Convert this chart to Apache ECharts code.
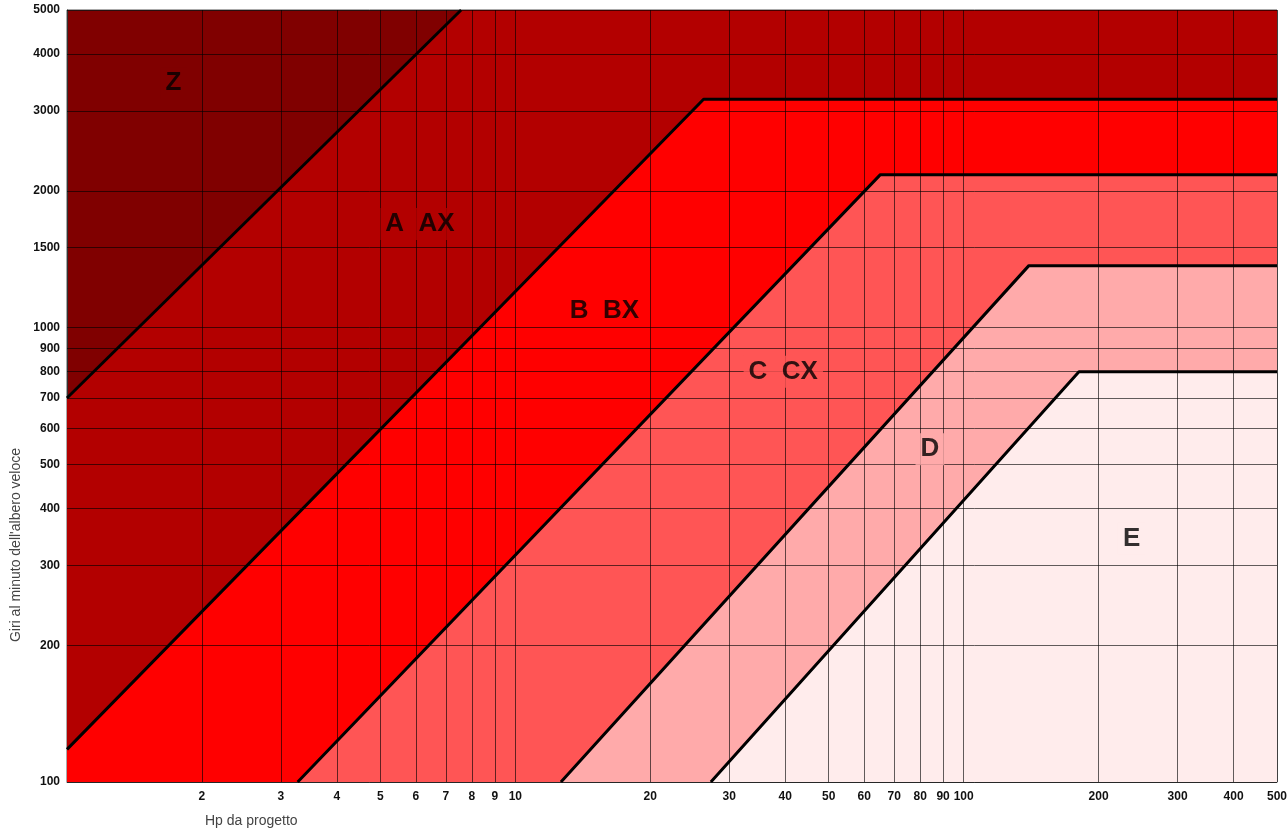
<!DOCTYPE html>
<html>
<head>
<meta charset="utf-8">
<script src="https://cdn.jsdelivr.net/npm/echarts@6/dist/echarts.min.js"></script>
<style>html,body{margin:0;padding:0;background:#fff}#c{width:1288px;height:831px}</style>
</head>
<body>
<div id="c"></div>
<script>
// Tick values
const xTicks = [2,3,4,5,6,7,8,9,10,20,30,40,50,60,70,80,90,100,200,300,400,500];
const yTicks = [100,200,300,400,500,600,700,800,900,1000,1500,2000,3000,4000,5000];

// Region boundaries [Hp, rpm]
const lineZA = [[1,700],[7.57,5000]];
const lineAB = [[1,118],[26.3,3180],[500,3180]];
const lineBC = [[3.27,100],[65.2,2171],[500,2171]];
const lineCD = [[12.64,100],[139.8,1369],[500,1369]];
const lineDE = [[27.3,100],[180.8,800],[500,800]];
const fillZA = [[1,700],[7.57,5000],[500,5000]];

// Region labels [Hp, rpm, text]
const regionLabels = [
  [1.727,3450,'Z'],
  [6.13,1690,'A  AX'],
  [15.8,1090,'B  BX'],
  [39.6,800,'C  CX'],
  [84.1,540,'D'],
  [237,343,'E']
];
const colors = {Z:'#800000',A:'#b30000',B:'#ff0000',C:'#ff5555',D:'#ffaaaa',E:'#ffecec'};
const labelBg = ['#800000','#b30000','#ff0000','#ff5555','#ffaaaa','#ffecec'];

const chart = echarts.init(document.getElementById('c'));

function fill(data, color){
  return {type:'line', data:data, showSymbol:false, symbol:'none', z:1,
    lineStyle:{width:0, opacity:0}, areaStyle:{color:color, opacity:1, origin:'start'},
    silent:true, animation:false, clip:true};
}
function stroke(data){
  return {type:'line', data:data, showSymbol:false, symbol:'none', z:5,
    lineStyle:{width:3, color:'#000'}, silent:true, animation:false, clip:true};
}

const gridLineStyle = {color:'rgba(0,0,0,0.62)', width:1, type:'solid'};
const tickFont = {color:'#111', fontWeight:'bold', fontSize:12, fontFamily:'Liberation Sans, Arial, sans-serif'};

const option = {
  animation:false,
  grid:{left:67, right:11, top:10, bottom:49, show:true, backgroundColor:colors.Z, borderColor:'#555', borderWidth:1},
  xAxis:{type:'log', logBase:10, min:1, max:500,
    axisLabel:{show:false}, axisTick:{show:false}, splitLine:{show:false}, minorSplitLine:{show:false},
    axisLine:{show:true, lineStyle:{color:'#666', width:1}}},
  yAxis:{type:'log', logBase:10, min:100, max:5000,
    axisLabel:{show:false}, axisTick:{show:false}, splitLine:{show:false},
    axisLine:{show:true, lineStyle:{color:'#333', width:1}}},
  graphic:[
    {type:'text', left:205, top:814, style:{text:'Hp da progetto', fill:'#444', font:'14px Liberation Sans, Arial, sans-serif'}},
    {type:'text', x:16, y:545, rotation:Math.PI/2,
      style:{text:"Giri al minuto dell'albero veloce", fill:'#444', font:'14px Liberation Sans, Arial, sans-serif', align:'center', verticalAlign:'middle'}}
  ],
  series:[
    fill(fillZA, colors.A),
    fill(lineAB, colors.B),
    fill(lineBC, colors.C),
    fill(lineCD, colors.D),
    fill(lineDE, colors.E),
    {type:'line', data:[], z:3, silent:true, animation:false,
      markLine:{silent:true, symbol:['none','none'], animation:false, precision:6,
        lineStyle:gridLineStyle,
        data: xTicks.map(v=>({xAxis:v, label:Object.assign({show:true, position:'start', distance:9, formatter:String(v)}, tickFont)}))
          .concat(yTicks.map(v=>({yAxis:v, label:Object.assign({show:true, position:'start', distance:7, formatter:String(v)}, tickFont)})))
      }},
    stroke(lineZA),
    stroke(lineAB),
    stroke(lineBC),
    stroke(lineCD),
    stroke(lineDE),
    {type:'scatter', z:10, silent:true, animation:false, symbolSize:0,
      data: regionLabels.map((d,i)=>({value:[d[0],d[1]], label:{backgroundColor:labelBg[i]}})),
      label:{show:true, position:'inside', formatter:p=>regionLabels[p.dataIndex][2],
        color:'#000', fontWeight:'bold', fontSize:26, fontFamily:'Liberation Sans, Arial, sans-serif', padding:[3,5]}}
  ]
};
chart.setOption(option);
</script>
</body>
</html>
